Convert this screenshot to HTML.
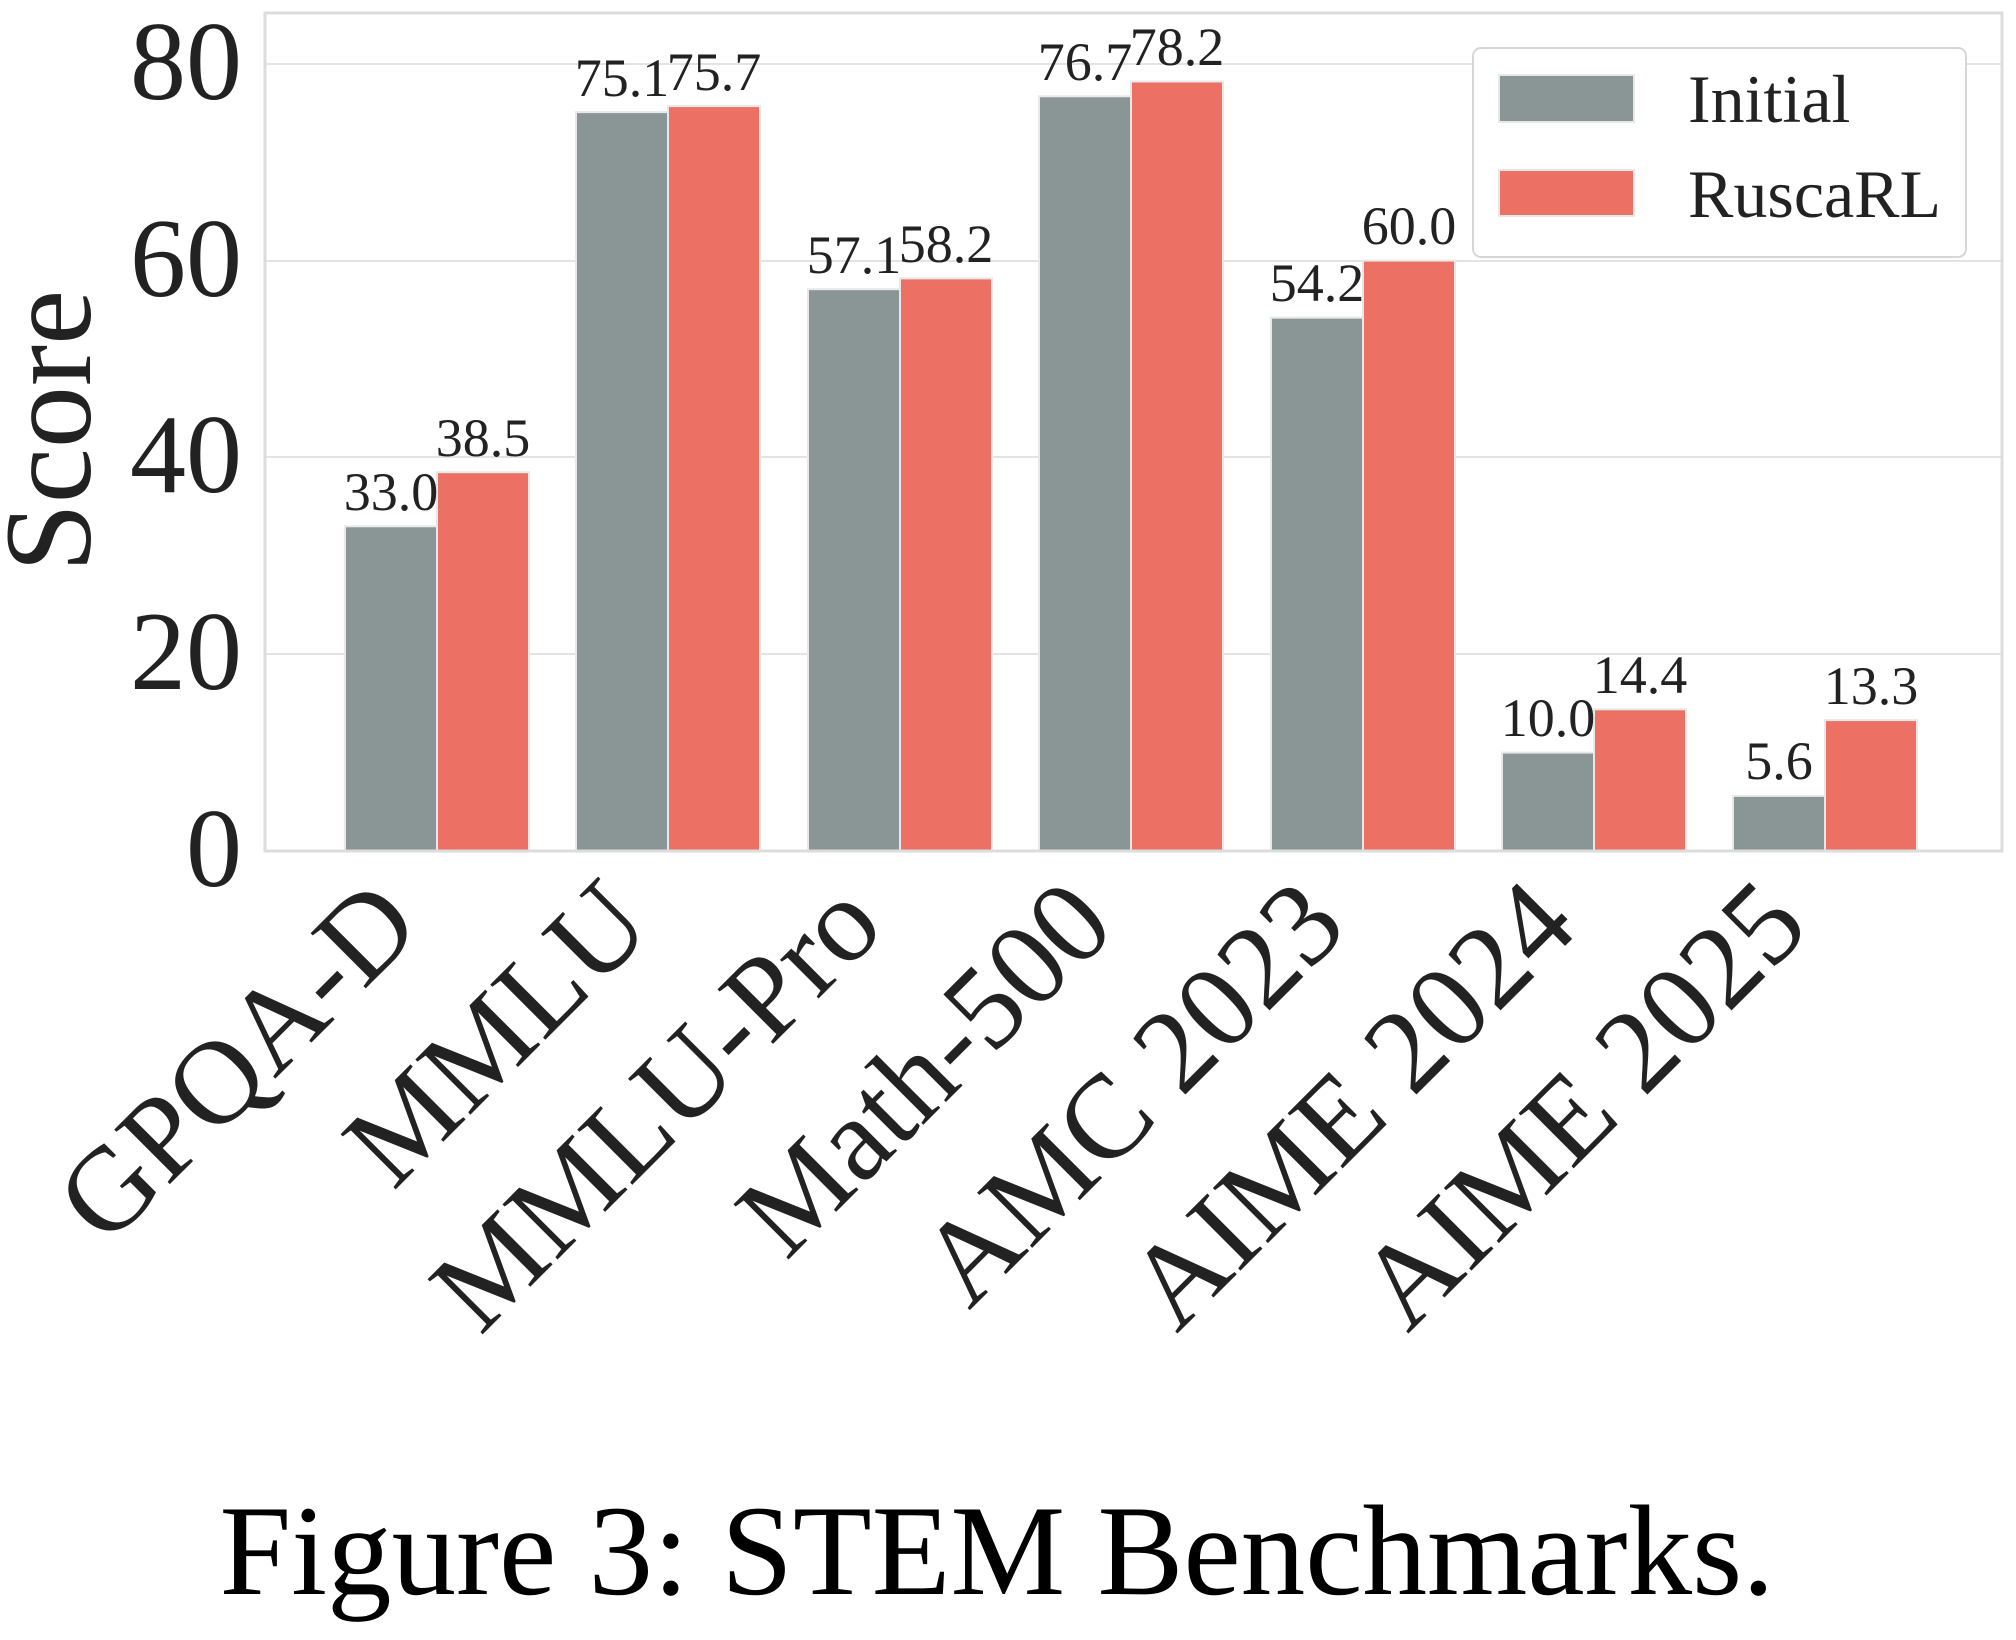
<!DOCTYPE html>
<html><head><meta charset="utf-8"><style>
html,body{margin:0;padding:0;background:#fff}
svg{display:block;font-family:"Liberation Serif",serif}
</style></head><body>
<svg width="2016" height="1640" viewBox="0 0 2016 1640" xmlns="http://www.w3.org/2000/svg">
<rect x="0" y="0" width="2016" height="1640" fill="#fff"/>
<g stroke="#e3e3e3" stroke-width="2">
<line x1="265" x2="2002" y1="654" y2="654"/>
<line x1="265" x2="2002" y1="457" y2="457"/>
<line x1="265" x2="2002" y1="261" y2="261"/>
<line x1="265" x2="2002" y1="64" y2="64"/>
</g>
<g stroke="#e8e8e8" stroke-width="2">
<rect x="345" y="526.3" width="92" height="324.7" fill="#8a9596"/>
<rect x="437" y="472.2" width="92" height="378.8" fill="#ec7064"/>
<rect x="576" y="112.1" width="92" height="738.9" fill="#8a9596"/>
<rect x="668" y="106.1" width="92" height="744.9" fill="#ec7064"/>
<rect x="808" y="289.2" width="92" height="561.8" fill="#8a9596"/>
<rect x="900" y="278.4" width="92" height="572.6" fill="#ec7064"/>
<rect x="1039" y="96.3" width="92" height="754.7" fill="#8a9596"/>
<rect x="1131" y="81.5" width="92" height="769.5" fill="#ec7064"/>
<rect x="1271" y="317.7" width="92" height="533.3" fill="#8a9596"/>
<rect x="1363" y="260.6" width="92" height="590.4" fill="#ec7064"/>
<rect x="1502" y="752.6" width="92" height="98.4" fill="#8a9596"/>
<rect x="1594" y="709.3" width="92" height="141.7" fill="#ec7064"/>
<rect x="1733" y="795.9" width="92" height="55.1" fill="#8a9596"/>
<rect x="1825" y="720.1" width="92" height="130.9" fill="#ec7064"/>
</g>
<rect x="265" y="13" width="1737" height="838" fill="none" stroke="#dcdcdc" stroke-width="3"/>
<g font-size="54" fill="#222" text-anchor="middle">
<text x="391" y="510">33.0</text><text x="483" y="456">38.5</text>
<text x="622" y="96">75.1</text><text x="714" y="90">75.7</text>
<text x="854" y="273">57.1</text><text x="946" y="262">58.2</text>
<text x="1085" y="80">76.7</text><text x="1177" y="65">78.2</text>
<text x="1317" y="301">54.2</text><text x="1409" y="244">60.0</text>
<text x="1548" y="736">10.0</text><text x="1640" y="693">14.4</text>
<text x="1779" y="779">5.6</text><text x="1871" y="704">13.3</text>
</g>
<g font-size="112" fill="#222" text-anchor="end">
<text x="242" y="886">0</text>
<text x="242" y="689">20</text>
<text x="242" y="492">40</text>
<text x="242" y="296">60</text>
<text x="242" y="99">80</text>
</g>
<text transform="translate(90,431) rotate(-90)" font-size="124" fill="#222" text-anchor="middle">Score</text>
<g font-size="119" fill="#222" text-anchor="end">
<text transform="translate(424,930) rotate(-45)">GPQA-D</text>
<text transform="translate(655,930) rotate(-45)">MMLU</text>
<text transform="translate(887,930) rotate(-45)">MMLU-Pro</text>
<text transform="translate(1118,930) rotate(-45)">Math-500</text>
<text transform="translate(1350,930) rotate(-45)">AMC 2023</text>
<text transform="translate(1581,930) rotate(-45)">AIME 2024</text>
<text transform="translate(1812,930) rotate(-45)">AIME 2025</text>
</g>
<rect x="1473" y="48" width="493" height="209" rx="8" fill="#fff" fill-opacity="0.9" stroke="#d6d6d6" stroke-width="2"/>
<rect x="1499" y="75" width="135" height="47" fill="#8a9596" stroke="#e8e8e8" stroke-width="2"/>
<rect x="1499" y="170" width="135" height="46" fill="#ec7064" stroke="#e8e8e8" stroke-width="2"/>
<g font-size="68" fill="#222">
<text x="1688" y="122">Initial</text>
<text x="1688" y="217">RuscaRL</text>
</g>
<text x="997" y="1594" font-size="129" fill="#000" text-anchor="middle">Figure 3: STEM Benchmarks.</text>
</svg>
</body></html>
